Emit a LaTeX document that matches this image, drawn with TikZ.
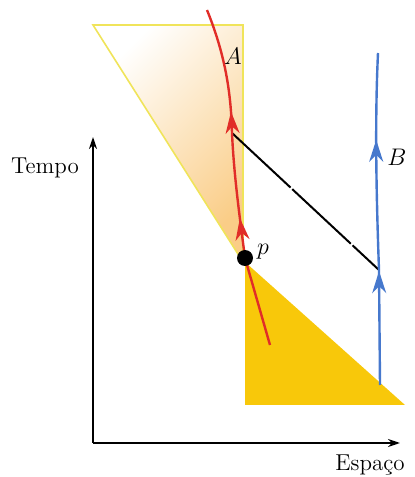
\documentclass[tikz,border=0pt]{standalone}
\usepackage{fontspec}
\usetikzlibrary{arrows.meta,decorations.markings}
\definecolor{lineA}{RGB}{225,45,40}
\definecolor{lineB}{RGB}{70,120,205}
\definecolor{coneF}{RGB}{250,205,135}
\definecolor{coneP}{RGB}{248,200,10}
\definecolor{coneE}{RGB}{240,228,90}

\begin{document}
\begin{tikzpicture}[
  x=0.5pt,y=0.5pt,
  wlA/.style={color=lineA,line width=1.2pt},
  wlB/.style={color=lineB,line width=1.2pt},
  tip/.style={postaction={decorate},decoration={markings,mark=at position #1 with {\arrow{Stealth[length=11pt,width=7pt,inset=3.5pt]}}}},
  ax/.style={-{Stealth[length=6pt,width=4pt]},line width=0.9pt},
  dot/.style={circle,fill=black,minimum size=8pt,inner sep=0pt},
  lbl/.style={font=\fontsize{11.5}{14}\selectfont},
  evt/.style={font=\fontsize{12}{14}\selectfont}
]
  \useasboundingbox (0,0) rectangle (414,477);
  % ---------------- CONES ----------------
  \shade[top color=white,bottom color=coneF,shading angle=45] (93,452) -- (243,452) -- (243,215) -- cycle;
  \draw[coneE,line width=0.8pt] (93,452) -- (243,452) -- (243,215) -- cycle;
  \fill[coneP] (245,215) -- (245,72) -- (405,72) -- cycle;
  % ---------------- AXES ----------------
  \coordinate (O) at (93,34);
  \coordinate (tT) at (93,340);
  \coordinate (tS) at (400,34);
  \draw[ax] (O) -- (tT);
  \draw[ax] (O) -- (tS);
  \node[lbl] (tempo) at (45,309) {Tempo};
  \node[lbl] (espaco) at (370,12) {Espaço};
  % ---------------- WORLD LINES ----------------
  \coordinate (p) at (245,219);
  \coordinate (a0) at (270,132);
  \coordinate (eA) at (232,344);
  \coordinate (a1) at (207,467);
  \coordinate (b0) at (380,92);
  \coordinate (eB) at (379,207);
  \coordinate (b1) at (378,424);
  \draw[black,line width=1pt,dash pattern=on 40pt off 1.2pt] (eA) -- (eB);
  \draw[wlA] (a0) -- (p);
  \draw[wlA,tip=0.32] (p) .. controls (240,258) and (234,300) .. (eA);
  \draw[wlA,tip=0.17] (eA) .. controls (231,388) and (224,425) .. (a1);
  \draw[wlB,tip=0.99] (b0) -- (eB);
  \draw[wlB,tip=0.6] (eB) .. controls (376,290) and (375,360) .. (b1);
  \node[dot] (pd) at (p) {};
  % ---------------- LABELS ----------------
  \node[evt] (labA) at (233,421) {$A$};
  \node[evt] (labB) at (397,320) {$B$};
  \node[evt] (labp) at (263,225) {$p$};
\end{tikzpicture}
\end{document}
